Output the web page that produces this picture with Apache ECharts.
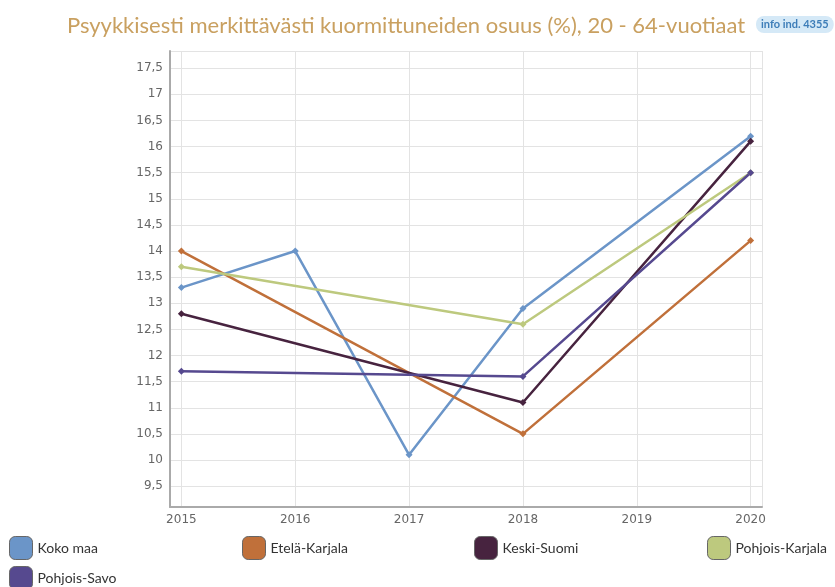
<!DOCTYPE html>
<html>
<head>
<meta charset="utf-8">
<script src="https://cdn.jsdelivr.net/npm/echarts@6/dist/echarts.min.js"></script>
<style>
  html, body { margin: 0; padding: 0; background: #fff; }
  #chart { width: 835px; height: 587px; }
</style>
</head>
<body>
<div id="chart"></div>
<script>
// vuodet ja arvot luettu kuvasta
const years = [2015, 2016, 2017, 2018, 2019, 2020]
const kokoMaa = [13.3, 14.0, 10.1, 12.9, null, 16.2]
const etelaKarjala = [14.0, null, null, 10.5, null, 14.2]
const keskiSuomi = [12.8, null, null, 11.1, null, 16.1]
const pohjoisKarjala = [13.7, null, null, 12.6, null, 15.5]
const pohjoisSavo = [11.7, null, null, 11.6, null, 15.5]

const seriesNames = ['Koko maa', 'Etelä-Karjala', 'Keski-Suomi', 'Pohjois-Karjala', 'Pohjois-Savo']
const seriesValues = [kokoMaa, etelaKarjala, keskiSuomi, pohjoisKarjala, pohjoisSavo]
const colors = ['#6b95c8', '#c0703a', '#47233f', '#bdc97e', '#56498f']

const pairs = vals => years.map((y, i) => [y, vals[i]]).filter(p => p[1] !== null)

// selite: neljä saraketta, toinen rivi alla
const legendPos = [[4, 531], [237, 531], [469, 531], [702, 531], [4, 561]]
const legends = seriesNames.map((name, i) => ({
  data: [name],
  left: legendPos[i][0],
  top: legendPos[i][1],
  icon: 'roundRect',
  itemWidth: 23,
  itemHeight: 23,
  itemGap: 7,
  itemStyle: { borderColor: '#666', borderWidth: 1 },
  textStyle: { fontFamily: 'Lato', fontSize: 14, color: '#333' }
}))

const chart = echarts.init(document.getElementById('chart'))
chart.setOption({
  animation: false,
  title: [
    {
      text: 'Psyykkisesti merkittävästi kuormittuneiden osuus (%), 20 - 64-vuotiaat',
      left: 62,
      top: 10,
      textStyle: { fontFamily: 'Lato', fontSize: 22, fontWeight: 'normal', color: '#c9a060' }
    },
    {
      text: 'info ind. 4355',
      left: 756,
      top: 16,
      padding: [3, 5],
      backgroundColor: '#d5e9f7',
      borderRadius: 8,
      textStyle: { fontFamily: 'Lato', fontSize: 11, fontWeight: 'bold', color: '#3d7db8' }
    }
  ],
  legend: legends,
  grid: { left: 170, right: 73, top: 51, bottom: 80 },
  xAxis: {
    type: 'value',
    min: 2014.9,
    max: 2020.1,
    splitNumber: 5,
    axisLine: { show: true, onZero: false, lineStyle: { color: '#aaa', width: 2 } },
    axisTick: { show: false },
    axisLabel: {
      showMinLabel: false,
      showMaxLabel: false,
      color: '#666',
      fontFamily: 'DejaVu Sans',
      fontSize: 12,
      margin: 7,
      formatter: v => String(v)
    },
    splitLine: { show: true, lineStyle: { color: '#e3e3e3', width: 1 } }
  },
  yAxis: {
    type: 'value',
    min: 9.1,
    max: 17.83,
    splitNumber: 17,
    axisLine: { show: true, lineStyle: { color: '#aaa', width: 2 } },
    axisTick: { show: false },
    axisLabel: {
      showMinLabel: false,
      showMaxLabel: false,
      color: '#666',
      fontFamily: 'DejaVu Sans',
      fontSize: 12,
      margin: 7,
      formatter: v => String(v).replace('.', ',')
    },
    splitLine: { show: true, lineStyle: { color: '#e3e3e3', width: 1 } }
  },
  series: seriesNames.map((name, i) => ({
    name: name,
    type: 'line',
    data: pairs(seriesValues[i]),
    color: colors[i],
    symbol: 'diamond',
    symbolSize: 7,
    lineStyle: { width: 2.5, color: colors[i] },
    itemStyle: { color: colors[i] }
  }))
})
</script>
</body>
</html>
